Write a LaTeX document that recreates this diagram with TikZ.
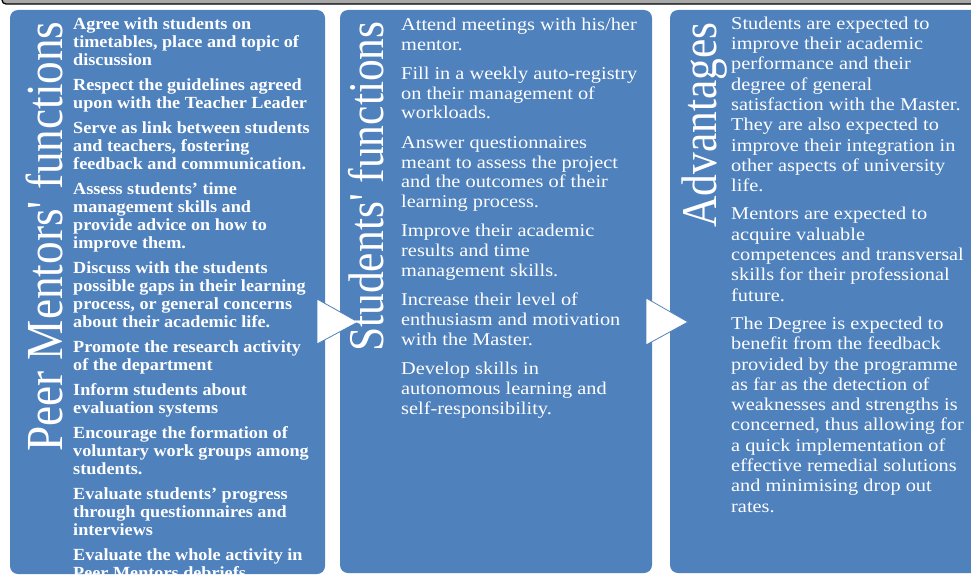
\documentclass[tikz,border=0pt]{standalone}
\usepackage{fontspec}
\setmainfont{Liberation Serif}
\newfontfamily\titlefont[FakeStretch=0.87,Ligatures=TeXOff]{Liberation Serif}
\newfontfamily\bodyfont[FakeStretch=1.13]{Liberation Serif}
\newfontfamily\bodyfontb[FakeStretch=1.07]{Liberation Serif}
\definecolor{panelblue}{RGB}{79,129,189}
\definecolor{barGray}{RGB}{168,168,168}
\tikzset{
  panel/.style={fill=panelblue, draw=none, rounded corners=8pt},
  arrowtri/.style={fill=white, draw=panelblue, line width=0.8pt, line join=miter},
  ptitle/.style={text=white, inner sep=0pt, anchor=base west, rotate=90},
  ptext/.style={text=white, inner sep=0pt, anchor=north west, align=left},
}
\newcommand{\fst}{\rule{0pt}{15pt}}
\begin{document}
\begin{tikzpicture}[x=1pt,y=-1pt]
\useasboundingbox (0,0) rectangle (971,575);
\clip (0,0) rectangle (971,575);
% top bar
\draw[line width=1.3pt, fill=barGray, rounded corners=4pt] (2,-20) rectangle (1000,4);
% panels
\path[panel] (10,10) rectangle (325,574);
\path[panel] (340,10) rectangle (652,573);
\path[panel] (670,10) rectangle (1000,573);
% arrows
\draw[arrowtri] (317,299) -- (358,322) -- (317,344) -- cycle;
\draw[arrowtri] (646,298) -- (688,322) -- (646,345) -- cycle;
% titles
\node[ptitle, font=\titlefont\fontsize{52}{60}\selectfont] (t1) at (62,452) {Peer Mentors' functions};
\node[ptitle, font=\titlefont\fontsize{50}{60}\selectfont] (t2) at (383,352) {Students' functions};
\node[ptitle, font=\titlefont\fontsize{50}{60}\selectfont] (t3) at (716,228) {Advantages};
% panel 1 text
\begin{scope}
\clip[rounded corners=8pt] (10,10) rectangle (325,574);
\node[ptext, font=\bodyfontb\bfseries\fontsize{17}{18.2}\selectfont] (x1) at (73,14) {%
\fst Agree with students on\\
timetables, place and topic of\\
discussion\\[6.4pt]
Respect the guidelines agreed\\
upon with the Teacher Leader\\[6.4pt]
Serve as link between students\\
and teachers, fostering\\
feedback and communication.\\[6.4pt]
Assess students’ time\\
management skills and\\
provide advice on how to\\
improve them.\\[6.4pt]
Discuss with the students\\
possible gaps in their learning\\
process, or general concerns\\
about their academic life.\\[6.4pt]
Promote the research activity\\
of the department\\[6.4pt]
Inform students about\\
evaluation systems\\[6.4pt]
Encourage the formation of\\
voluntary work groups among\\
students.\\[6.4pt]
Evaluate students’ progress\\
through questionnaires and\\
interviews\\[6.4pt]
Evaluate the whole activity in\\
Peer Mentors debriefs};
\end{scope}
% panel 2 text
\node[ptext, font=\bodyfont\fontsize{18}{19.8}\selectfont] (x2) at (401,15) {%
\fst Attend meetings with his/her\\
mentor.\\[9.5pt]
Fill in a weekly auto-registry\\
on their management of\\
workloads.\\[9.5pt]
Answer questionnaires\\
meant to assess the project\\
and the outcomes of their\\
learning process.\\[9.5pt]
Improve their academic\\
results and time\\
management skills.\\[9.5pt]
Increase their level of\\
enthusiasm and motivation\\
with the Master.\\[9.5pt]
Develop skills in\\
autonomous learning and\\
self-responsibility.};
% panel 3 text
\node[ptext, font=\bodyfont\fontsize{18}{20.3}\selectfont] (x3) at (731,14) {%
\fst Students are expected to\\
improve their academic\\
performance and their\\
degree of general\\
satisfaction with the Master.\\
They are also expected to\\
improve their integration in\\
other aspects of university\\
life.\\[8pt]
Mentors are expected to\\
acquire valuable\\
competences and transversal\\
skills for their professional\\
future.\\[8pt]
The Degree is expected to\\
benefit from the feedback\\
provided by the programme\\
as far as the detection of\\
weaknesses and strengths is\\
concerned, thus allowing for\\
a quick implementation of\\
effective remedial solutions\\
and minimising drop out\\
rates.};
\end{tikzpicture}
\end{document}
